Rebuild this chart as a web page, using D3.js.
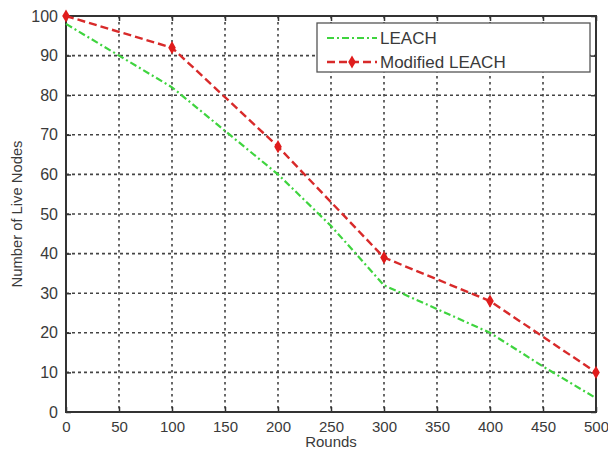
<!DOCTYPE html>
<html>
<head>
<meta charset="utf-8">
<script src="https://cdn.jsdelivr.net/npm/d3@7"></script>
<style>
  body { margin: 0; background: #fff; }
  text { font-family: "Liberation Sans", Arial, sans-serif; fill: #3a3a3a; }
</style>
</head>
<body>
<div id="chart"></div>
<script>
// DATA
const leachRounds = [0, 50, 100, 150, 200, 250, 300, 350, 400, 450, 500];
const leachNodes = [98, 90, 82, 71, 60, 47, 32, 26, 20, 11.5, 3.5];
const modRounds = [0, 100, 200, 300, 400, 500];
const modNodes = [100, 92, 67, 39, 28, 10];
const xTicks = [0, 50, 100, 150, 200, 250, 300, 350, 400, 450, 500];
const yTicks = [0, 10, 20, 30, 40, 50, 60, 70, 80, 90, 100];
const seriesNames = ["LEACH", "Modified LEACH"];

const W = 608, H = 450;
const margin = { top: 16, right: 12, bottom: 38, left: 66 };
const w = W - margin.left - margin.right;
const h = H - margin.top - margin.bottom;

const svg = d3.select("#chart").append("svg")
  .attr("width", W).attr("height", H);
const g = svg.append("g")
  .attr("transform", "translate(" + margin.left + "," + margin.top + ")");

const x = d3.scaleLinear().domain([0, 500]).range([0, w]);
const y = d3.scaleLinear().domain([0, 100]).range([h, 0]);

// grid
g.append("g").selectAll("line").data(xTicks.slice(1, -1)).join("line")
  .attr("x1", d => x(d)).attr("x2", d => x(d)).attr("y1", 0).attr("y2", h)
  .attr("stroke", "#444").attr("stroke-width", 1.6).attr("stroke-dasharray", "2.5,3.5");
g.append("g").selectAll("line").data(yTicks.slice(1, -1)).join("line")
  .attr("y1", d => y(d)).attr("y2", d => y(d)).attr("x1", 0).attr("x2", w)
  .attr("stroke", "#444").attr("stroke-width", 1.6).attr("stroke-dasharray", "3,3");

// axes (ticks inward, box on)
function styleAxis(size) {
  return sel => {
    sel.select(".domain").remove();
    sel.selectAll(".tick line").attr("stroke", "#333").attr("stroke-width", 1.5);
    sel.selectAll("text").attr("font-size", size).attr("fill", "#3a3a3a");
  };
}
g.append("g").attr("transform", "translate(0," + h + ")")
  .call(d3.axisBottom(x).tickValues(xTicks).tickSizeInner(-5).tickSizeOuter(0).tickPadding(9))
  .call(styleAxis(15));
g.append("g")
  .call(d3.axisLeft(y).tickValues(yTicks).tickSizeInner(-5).tickSizeOuter(0).tickPadding(8))
  .call(styleAxis(16));
g.append("g")
  .call(d3.axisTop(x).tickValues(xTicks).tickSizeInner(-5).tickSizeOuter(0).tickFormat(""))
  .call(styleAxis(15));
g.append("g").attr("transform", "translate(" + w + ",0)")
  .call(d3.axisRight(y).tickValues(yTicks).tickSizeInner(-5).tickSizeOuter(0).tickFormat(""))
  .call(styleAxis(15));

g.append("rect").attr("width", w).attr("height", h)
  .attr("fill", "none").attr("stroke", "#333").attr("stroke-width", 2);

// lines
const line = d3.line().x(d => x(d[0])).y(d => y(d[1]));
const leach = leachRounds.map((r, i) => [r, leachNodes[i]]);
const mod = modRounds.map((r, i) => [r, modNodes[i]]);

g.append("path").datum(leach).attr("d", line)
  .attr("fill", "none").attr("stroke", "#3fd43f").attr("stroke-width", 2.2)
  .attr("stroke-dasharray", "7,3,2,3");
g.append("path").datum(mod).attr("d", line)
  .attr("fill", "none").attr("stroke", "#d82a2a").attr("stroke-width", 2.4)
  .attr("stroke-dasharray", "8,4");

const diamond = d3.symbol().type(d3.symbolDiamond).size(50);
g.append("g").selectAll("path").data(mod).join("path")
  .attr("d", diamond)
  .attr("transform", d => "translate(" + x(d[0]) + "," + y(d[1]) + ")")
  .attr("fill", "#e01c1c");

// legend
const lg = svg.append("g").attr("transform", "translate(317,23)");
lg.append("rect").attr("width", 273).attr("height", 49)
  .attr("fill", "#fff").attr("stroke", "#555").attr("stroke-width", 1.3);
lg.append("line").attr("x1", 10).attr("x2", 60).attr("y1", 15).attr("y2", 15)
  .attr("stroke", "#3fd43f").attr("stroke-width", 2.2).attr("stroke-dasharray", "7,3,2,3");
lg.append("line").attr("x1", 10).attr("x2", 60).attr("y1", 39).attr("y2", 39)
  .attr("stroke", "#d82a2a").attr("stroke-width", 2.4).attr("stroke-dasharray", "8,4");
lg.append("path").attr("d", diamond).attr("transform", "translate(35,39)").attr("fill", "#e01c1c");
lg.selectAll("text.lab").data(seriesNames).join("text")
  .attr("class", "lab")
  .attr("x", 63).attr("y", (d, i) => 15 + i * 24 + 6)
  .attr("font-size", 17)
  .text(d => d);

// axis labels
svg.append("text")
  .attr("transform", "translate(22," + (margin.top + h / 2) + ") rotate(-90)")
  .attr("text-anchor", "middle").attr("font-size", 14)
  .attr("textLength", 147).attr("lengthAdjust", "spacingAndGlyphs")
  .text("Number of Live Nodes");
svg.append("text")
  .attr("x", margin.left + w / 2).attr("y", 447)
  .attr("text-anchor", "middle").attr("font-size", 15)
  .text("Rounds");
</script>
</body>
</html>
